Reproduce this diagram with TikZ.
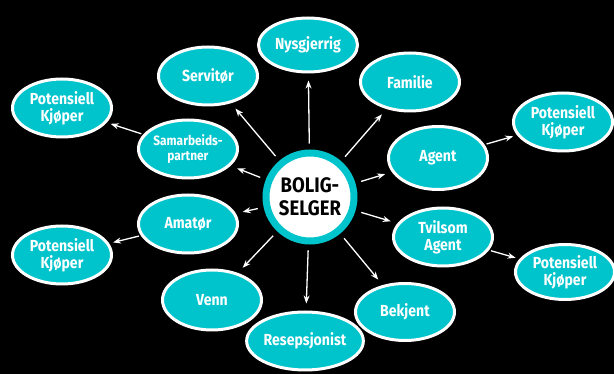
\documentclass[tikz,border=0pt]{standalone}
\usepackage{fontspec}
\setmainfont{Fira Sans}[FakeStretch=0.88]
\usetikzlibrary{shapes.geometric,arrows.meta}
\definecolor{tealc}{RGB}{0,196,204}
\begin{document}
\begin{tikzpicture}[x=1pt,y=-1pt,
  bub/.style={ellipse,draw=white,line width=3pt,fill=tealc,text=white,
    font=\bfseries\fontsize{16}{17}\selectfont,align=center,inner sep=0pt,
    minimum width=99pt,minimum height=#1},
  bub/.default=58pt,
  arr/.style={draw=white,line width=1.3pt,-{Stealth[length=8pt,width=6pt]},
    shorten <=6pt,shorten >=7pt}]
\fill[black] (0,0) rectangle (614,374);
\useasboundingbox (0,0) rectangle (614,374);
\node[circle,draw=tealc,line width=7pt,fill=white,minimum size=88pt,inner sep=0pt,
  font=\bfseries\fontsize{21}{23}\selectfont,align=center] (c) at (310,197) {BOLIG-\\SELGER};
\node[bub=54pt] (nys) at (308,45) {Nysgjerrig};
\node[bub] (ser) at (208,76) {Servitør};
\node[bub] (fam) at (410,82) {Familie};
\node[bub] (pk1) at (62,108) {Potensiell\\Kjøper};
\node[bub,font=\bfseries\fontsize{13.5}{15}\selectfont] (sam) at (188,149) {Samarbeids-\\partner};
\node[bub=63pt] (age) at (438,158) {Agent};
\node[bub] (pk2) at (563,122) {Potensiell\\Kjøper};
\node[bub] (tvi) at (443,237) {Tvilsom\\Agent};
\node[bub=55pt] (pk3) at (565,272) {Potensiell\\Kjøper};
\node[bub] (ama) at (188,224) {Amatør};
\node[bub] (pk4) at (62,255) {Potensiell\\Kjøper};
\node[bub=60pt] (ven) at (212,300) {Venn};
\node[bub] (res) at (305,341) {Resepsjonist};
\node[bub=57pt] (bek) at (405,312) {Bekjent};
\foreach \t in {nys,ser,fam,sam,age,tvi,ama,ven,res,bek}
  \draw[arr] (c) -- (\t);
\draw[arr,shorten <=2pt,shorten >=4pt] (sam) -- (pk1);
\draw[arr,shorten <=2pt,shorten >=4pt] (ama) -- (pk4);
\draw[arr,shorten <=2pt,shorten >=4pt] (age) -- (pk2);
\draw[arr,shorten <=2pt,shorten >=4pt] (tvi) -- (pk3);
\end{tikzpicture}
\end{document}
